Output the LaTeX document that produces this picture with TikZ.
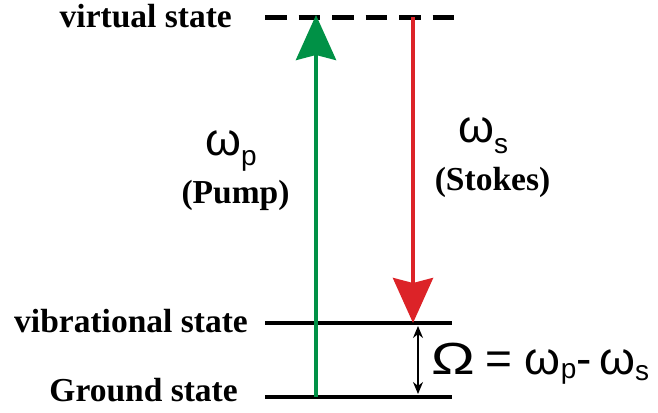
\documentclass[tikz,border=0pt]{standalone}
\usepackage{fontspec}
\setmainfont{Liberation Serif}
\newfontfamily\lsans{Liberation Sans}
\usetikzlibrary{arrows.meta}
\definecolor{pumpgreen}{RGB}{0,145,70}
\definecolor{stokesred}{RGB}{220,35,40}
\tikzset{
  statelabel/.style={inner sep=0pt, font=\fontsize{33.5}{36}\selectfont\bfseries},
  level/.style={line width=4.3pt},
  omg/.style={inner sep=0pt, font=\fontsize{46}{46}\lsans},
  bigarrow/.style={line width=4pt, -{Stealth[length=45pt,width=40pt,inset=5pt]}},
}
\newcommand{\subtxt}[2]{\raisebox{-#1pt}{\fontsize{28}{28}\lsans #2}}
\begin{document}
\begin{tikzpicture}[x=1pt,y=-1pt]
\useasboundingbox (0,0) rectangle (658,412);
% levels
\coordinate (virtL) at (265,17.5);
\coordinate (virtR) at (456,17.5);
\coordinate (vibL) at (265,323);
\coordinate (vibR) at (452,323);
\coordinate (gndL) at (265,397);
\coordinate (gndR) at (452,397);
\coordinate (pumpS) at (316,397);
\coordinate (pumpE) at (316,15);
\coordinate (stokesS) at (413,17.5);
\coordinate (stokesE) at (413,323);
\coordinate (omS) at (418,326);
\coordinate (omE) at (418,394);
\draw[line width=4.5pt, dash pattern=on 21.5pt off 12pt] (virtL) -- (virtR);
\draw[level] (vibL) -- (vibR);
\draw[level] (gndL) -- (gndR);
\draw[bigarrow, pumpgreen] (pumpS) -- (pumpE);
\draw[bigarrow, stokesred] (stokesS) -- (stokesE);
\draw[line width=1.3pt, {Stealth[length=12pt,width=10pt]}-{Stealth[length=12pt,width=10pt]}] (omS) -- (omE);
% labels
\node[statelabel, anchor=base east] (virtlab) at (232,28) {virtual state};
\node[statelabel, anchor=base east] (viblab) at (248,332) {vibrational state};
\node[statelabel, anchor=base east] (gndlab) at (238,401) {Ground state};
\node[omg, anchor=base west] (wp) at (205,155) {ω\subtxt{10}{p}};
\node[statelabel, anchor=base] (pump) at (235.5,203) {(Pump)};
\node[omg, anchor=base west] (ws) at (458,142) {ω\subtxt{11}{s}};
\node[statelabel, anchor=base] (stokes) at (492.5,190) {(Stokes)};
\node[inner sep=0pt, anchor=base west, font=\fontsize{45}{45}\lsans] (Om) at (431,374) {\scalebox{1.3}[1]{Ω}};
\node[omg, anchor=base west] (eq) at (485,374) {= ω\subtxt{4}{p}-\,ω\subtxt{6}{s}};
\end{tikzpicture}
\end{document}
